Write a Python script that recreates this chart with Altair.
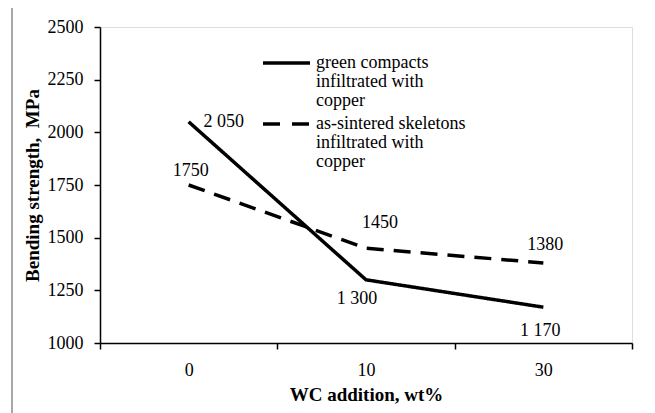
import altair as alt
import pandas as pd

# ---- data ----
wc_addition = ["0", "10", "30"]
green_compacts = [2050, 1300, 1170]
green_labels = ["2 050", "1 300", "1 170"]
as_sintered = [1750, 1450, 1380]
sintered_labels = ["1750", "1450", "1380"]
series_names = ["green compacts infiltrated with copper",
                "as-sintered skeletons infiltrated with copper"]
legend_lines = [["green compacts", "infiltrated with", "copper"],
                ["as-sintered skeletons", "infiltrated with", "copper"]]
y_ticks = [1000, 1250, 1500, 1750, 2000, 2250, 2500]

# label offsets (style, not data)
green_offsets = [(35, 0), (-9, 19), (-3, 24)]
sintered_offsets = [(2, -14), (14, -25), (2, -18)]

FONT = "'Liberation Serif', 'Times New Roman', 'DejaVu Serif', serif"
FS = 18
TFS = 19
W, H = 532, 316

rows = []
for i, c in enumerate(wc_addition):
    rows.append({"wc": c, "val": green_compacts[i], "series": series_names[0],
                 "lab": green_labels[i], "dx": green_offsets[i][0], "dy": green_offsets[i][1]})
for i, c in enumerate(wc_addition):
    rows.append({"wc": c, "val": as_sintered[i], "series": series_names[1],
                 "lab": sintered_labels[i], "dx": sintered_offsets[i][0], "dy": sintered_offsets[i][1]})
df = pd.DataFrame(rows)

xenc = alt.X("wc:N", sort=wc_addition,
             scale=alt.Scale(type="band", paddingInner=0, paddingOuter=0),
             axis=alt.Axis(title="WC addition, wt%", labelAngle=0, tickBand="extent",
                           labelFont=FONT, labelFontSize=FS, labelColor="black", labelPadding=12,
                           titleFont=FONT, titleFontSize=TFS, titleFontWeight="bold",
                           titleColor="black", titlePadding=6,
                           domainColor="black", domainWidth=1.5, tickColor="black",
                           tickWidth=1.5, tickSize=6))
yenc = alt.Y("val:Q", scale=alt.Scale(domain=[1000, 2500], nice=False),
             axis=alt.Axis(title="Bending strength,\u00a0 MPa", values=y_ticks, grid=False, format="d",
                           labelFont=FONT, labelFontSize=FS, labelColor="black", labelPadding=11,
                           titleFont=FONT, titleFontSize=TFS, titleFontWeight="bold",
                           titleColor="black", titlePadding=5,
                           domainColor="black", domainWidth=1.5, tickColor="black",
                           tickWidth=1.5, tickSize=6))

base = alt.Chart(df)

lines = base.mark_line(color="black", strokeWidth=3.5).encode(
    x=xenc, y=yenc,
    strokeDash=alt.StrokeDash("series:N", sort=series_names,
                              scale=alt.Scale(domain=series_names, range=[[1, 0], [17, 10]]),
                              legend=None),
)

labels_layers = []
for name in series_names:
    sub = df[df.series == name]
    for _, r in sub.iterrows():
        labels_layers.append(
            alt.Chart(pd.DataFrame([r])).mark_text(
                font=FONT, fontSize=FS, color="black", dx=int(r.dx), dy=int(r.dy)
            ).encode(x=alt.X("wc:N", sort=wc_addition), y="val:Q", text="lab:N")
        )

# manual legend
leg_y = [36, 97]
leg_rule1 = alt.Chart(alt.Data(values=[{}])).mark_rule(color="black", strokeWidth=3.5).encode(
    x=alt.value(163), x2=alt.value(210), y=alt.value(leg_y[0]))
leg_rule2 = alt.Chart(alt.Data(values=[{}])).mark_rule(
    color="black", strokeWidth=3.5, strokeDash=[17, 12]).encode(
    x=alt.value(163), x2=alt.value(210), y=alt.value(leg_y[1]))
leg_text1 = alt.Chart(alt.Data(values=[{"t": legend_lines[0]}])).mark_text(
    font=FONT, fontSize=FS, color="black", align="left", baseline="middle", lineHeight=19
).encode(x=alt.value(216), y=alt.value(leg_y[0]), text="t:N")
leg_text2 = alt.Chart(alt.Data(values=[{"t": legend_lines[1]}])).mark_text(
    font=FONT, fontSize=FS, color="black", align="left", baseline="middle", lineHeight=19
).encode(x=alt.value(216), y=alt.value(leg_y[1]), text="t:N")

outer = alt.Chart(alt.Data(values=[{}])).mark_rect(
    fill=None, stroke="#8c8c8c", strokeWidth=1.5, clip=False
).encode(x=alt.value(-88), x2=alt.value(548), y=alt.value(-22), y2=alt.value(395))

chart = alt.layer(outer, lines, *labels_layers, leg_rule1, leg_rule2, leg_text1, leg_text2).properties(
    width=W, height=H,
    autosize=alt.AutoSizeParams(type="none"),
    padding={"left": 92, "top": 19, "right": 15, "bottom": 70},
).configure_view(stroke="black", strokeWidth=1.5).configure(background="white", font=FONT)

chart.save("out.html", embed_options={"renderer": "svg", "actions": False})
